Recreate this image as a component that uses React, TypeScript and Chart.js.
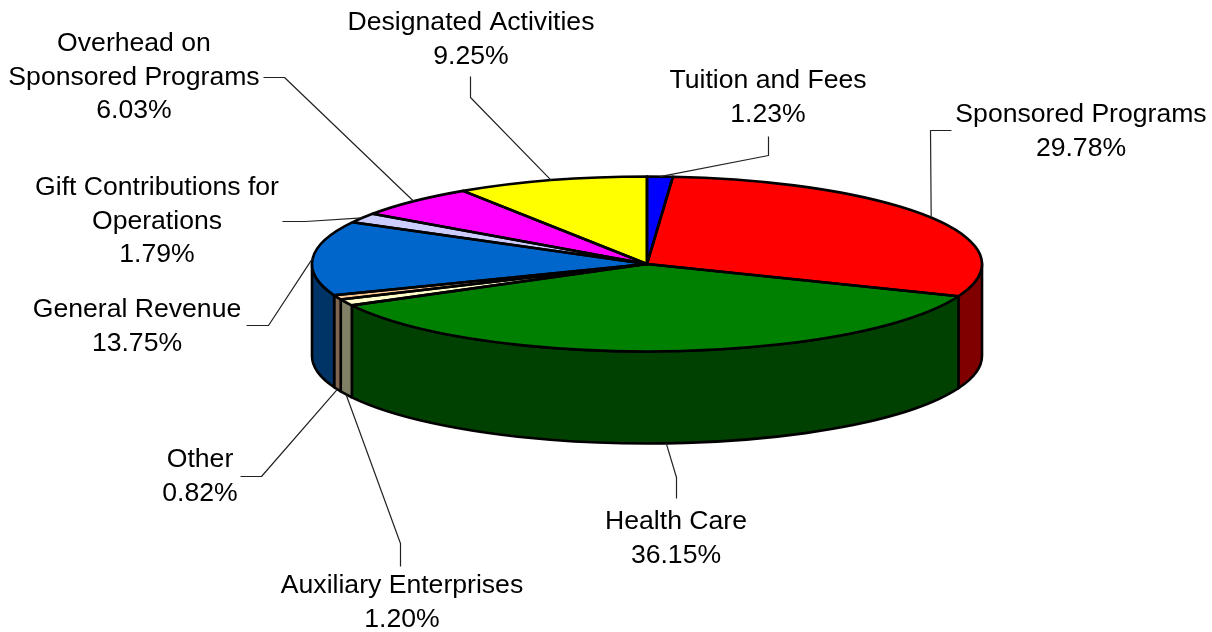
import React, { useEffect, useRef } from "react";
import { Chart, registerables } from "chart.js";

Chart.register(...registerables);

// ---- data ----
const categories = [
  "Tuition and Fees",
  "Sponsored Programs",
  "Health Care",
  "Auxiliary Enterprises",
  "Other",
  "General Revenue",
  "Gift Contributions for Operations",
  "Overhead on Sponsored Programs",
  "Designated Activities",
];
const shares = [1.23, 29.78, 36.15, 1.2, 0.82, 13.75, 1.79, 6.03, 9.25];

// ---- styles ----
const topColors = ["#0000FF", "#FF0000", "#008000", "#FFFFCC", "#FFCC99", "#0066CC", "#CCCCFF", "#FF00FF", "#FFFF00"];
const wallColors = ["#000080", "#800000", "#004000", "#808066", "#806650", "#003366", "#666680", "#800080", "#808000"];
const labelLines = [
  ["Tuition and Fees"],
  ["Sponsored Programs"],
  ["Health Care"],
  ["Auxiliary Enterprises"],
  ["Other"],
  ["General Revenue"],
  ["Gift Contributions for", "Operations"],
  ["Overhead on", "Sponsored Programs"],
  ["Designated Activities"],
];

// ---- layout: label centre x, first line middle y, and leader elbows ----
const labelCenterX = [768, 1081, 676, 402, 200, 137, 157, 134, 471];
const labelFirstY = [81, 115, 522, 586, 460, 310, 188, 44, 23];
const leaderElbows: number[][][] = [
  [[768, 155], [768, 136]],
  [[930, 130], [951, 130]],
  [[676, 477], [676, 498]],
  [[400, 543], [400, 566]],
  [[261, 476], [240, 476]],
  [[268, 325], [246, 325]],
  [[305, 221], [282, 221]],
  [[284, 77], [263, 77]],
  [[470, 97], [470, 76]],
];

const PIE_X = 647;
const PIE_Y = 264;
const RADIUS = 335;
const SQUASH = 87.5 / 335;
const DEPTH = 92;
const LINE_H = 33.5;
const FONT = '26.6px "Liberation Sans", Arial, sans-serif';
const EDGE = 2.6;

const pie3d = {
  id: "pie3d",
  beforeDatasetsDraw(chart: any) {
    const ctx = chart.ctx;
    const ry = RADIUS * SQUASH;
    chart.getDatasetMeta(0).data.forEach((arc: any, i: number) => {
      const a = Math.max(arc.startAngle, 0);
      const b = Math.min(arc.endAngle, Math.PI);
      if (b <= a) return;
      ctx.save();
      ctx.beginPath();
      ctx.ellipse(PIE_X, PIE_Y, arc.outerRadius, ry, 0, a, b);
      ctx.ellipse(PIE_X, PIE_Y + DEPTH, arc.outerRadius, ry, 0, b, a, true);
      ctx.closePath();
      ctx.fillStyle = wallColors[i];
      ctx.fill();
      ctx.strokeStyle = "#000";
      ctx.lineWidth = EDGE;
      ctx.lineJoin = "round";
      ctx.stroke();
      ctx.restore();
    });
  },
  beforeDatasetDraw(chart: any) {
    const ctx = chart.ctx;
    const arc = chart.getDatasetMeta(0).data[0];
    ctx.save();
    ctx.translate(PIE_X, PIE_Y);
    ctx.scale(1, SQUASH);
    ctx.translate(-arc.x, -arc.y);
  },
  afterDatasetDraw(chart: any) {
    chart.ctx.restore();
  },
  afterDatasetsDraw(chart: any) {
    const ctx = chart.ctx;
    const ry = RADIUS * SQUASH;
    const arcs = chart.getDatasetMeta(0).data;
    ctx.save();
    ctx.strokeStyle = "#000";
    ctx.lineWidth = EDGE;
    ctx.lineJoin = "round";
    arcs.forEach((arc: any) => {
      ctx.beginPath();
      ctx.moveTo(PIE_X, PIE_Y);
      ctx.ellipse(PIE_X, PIE_Y, arc.outerRadius, ry, 0, arc.startAngle, arc.endAngle);
      ctx.closePath();
      ctx.stroke();
    });
    // leaders and labels
    ctx.font = FONT;
    ctx.textAlign = "center";
    ctx.textBaseline = "middle";
    arcs.forEach((arc: any, i: number) => {
      const mid = (arc.startAngle + arc.endAngle) / 2;
      const sx = PIE_X + arc.outerRadius * Math.cos(mid);
      const sinM = Math.sin(mid);
      const sy = PIE_Y + ry * sinM + (sinM > 0 ? DEPTH : 0);
      ctx.beginPath();
      ctx.moveTo(sx, sy);
      leaderElbows[i].forEach((p) => ctx.lineTo(p[0] + 0.5, p[1] + 0.5));
      ctx.lineWidth = 1.2;
      ctx.strokeStyle = "#222";
      ctx.stroke();
      const lines = [...labelLines[i], shares[i].toFixed(2) + "%"];
      ctx.fillStyle = "#000";
      lines.forEach((t, j) => ctx.fillText(t, labelCenterX[i], labelFirstY[i] + j * LINE_H));
    });
    ctx.restore();
  },
};

export default function App() {
  const ref = useRef<HTMLCanvasElement>(null);
  useEffect(() => {
    const chart = new Chart(ref.current!, {
      type: "pie",
      data: {
        labels: categories,
        datasets: [
          {
            data: shares,
            backgroundColor: topColors,
            borderWidth: 0,
            clip: false,
          } as any,
        ],
      },
      options: {
        responsive: false,
        animation: false,
        radius: RADIUS,
        events: [],
        layout: { padding: 0 },
        plugins: { legend: { display: false }, tooltip: { enabled: false }, title: { display: false } },
      } as any,
      plugins: [pie3d],
    });
    return () => chart.destroy();
  }, []);
  return (
    <div style={{ position: "fixed", left: 0, top: 0, width: 1212, height: 632, background: "#fff" }}>
      <canvas ref={ref} width={1212} height={632} style={{ display: "block" }} />
    </div>
  );
}
